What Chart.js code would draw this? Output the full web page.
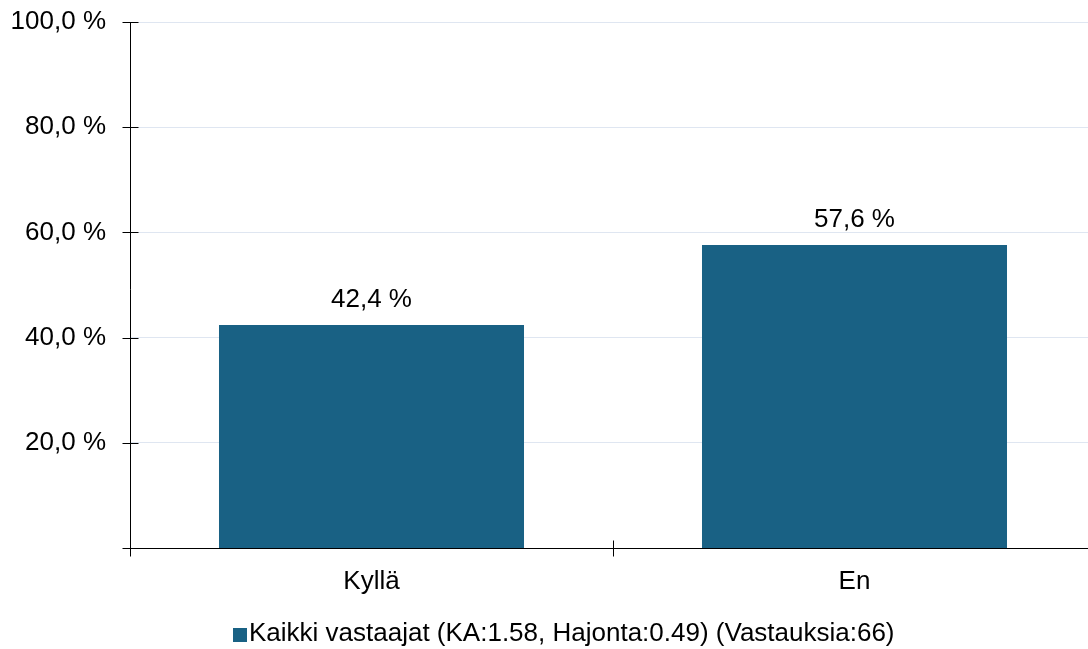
<!DOCTYPE html>
<html><head><meta charset="utf-8">
<script src="https://cdn.jsdelivr.net/npm/chart.js@4/dist/chart.umd.min.js"></script>
<style>html,body{margin:0;padding:0;background:#fff;overflow:hidden}#wrap{width:1096px;height:649px}</style>
</head><body><div id="wrap"><canvas id="c"></canvas></div>
<script>
const categories = ["Kyllä", "En"];
const values = [42.4, 57.6];
const seriesLabel = "Kaikki vastaajat (KA:1.58, Hajonta:0.49) (Vastauksia:66)";
const yTicks = [20, 40, 60, 80, 100];
const barColor = "#196184";
const FONT = '"Liberation Sans", Arial, sans-serif';
const FS = 26;
const fmt = v => v.toFixed(1).replace('.', ',') + ' %';

const axisPlugin = {
  id: 'axisPlugin',
  afterDraw(chart) {
    const ctx = chart.ctx, x = chart.scales.x, y = chart.scales.y, a = chart.chartArea;
    ctx.save();
    ctx.strokeStyle = '#000'; ctx.lineWidth = 1;
    const ax = Math.round(a.left) + 0.5, ay = Math.round(y.getPixelForValue(0)) + 0.5;
    ctx.beginPath();
    ctx.moveTo(ax, a.top); ctx.lineTo(ax, ay + 8);
    ctx.moveTo(ax, ay); ctx.lineTo(a.right, ay);
    yTicks.forEach(v => { const py = Math.round(y.getPixelForValue(v)) + 0.5; ctx.moveTo(ax - 8, py); ctx.lineTo(ax + 8, py); });
    ctx.moveTo(ax - 8, ay); ctx.lineTo(ax + 8, ay);
    for (let i = 1; i < categories.length; i++) {
      const px = Math.round((x.getPixelForValue(i - 1) + x.getPixelForValue(i)) / 2) + 0.5;
      ctx.moveTo(px, ay - 8); ctx.lineTo(px, ay + 8);
    }
    ctx.stroke();
    // data labels
    ctx.fillStyle = '#000';
    ctx.font = FS + 'px ' + FONT;
    ctx.textAlign = 'center'; ctx.textBaseline = 'alphabetic';
    const meta = chart.getDatasetMeta(0);
    meta.data.forEach((bar, i) => { ctx.fillText(fmt(values[i]), bar.x, bar.y - 18); });
    // legend
    const ds = chart.data.datasets[0];
    const tw = ctx.measureText(ds.label).width;
    const total = 14 + 2 + tw;
    const lx = Math.round(563.5 - total / 2);
    const ly = 634;
    ctx.fillStyle = ds.backgroundColor;
    ctx.fillRect(lx, ly - 6, 14, 14);
    ctx.fillStyle = '#000';
    ctx.textAlign = 'left'; ctx.textBaseline = 'middle';
    ctx.fillText(ds.label, lx + 16, ly);
    ctx.restore();
  }
};

new Chart(document.getElementById('c'), {
  type: 'bar',
  data: { labels: categories, datasets: [{ label: seriesLabel, data: values, backgroundColor: barColor, borderWidth: 0, barPercentage: 0.6315, categoryPercentage: 1 }] },
  options: {
    responsive: true, maintainAspectRatio: false, animation: false,
    layout: { padding: { top: 22, right: 0, left: 0, bottom: 41 } },
    plugins: {
      tooltip: { enabled: false },
      legend: { display: false }
    },
    scales: {
      x: {
        grid: { display: false }, border: { display: false },
        ticks: { color: '#000', padding: 10, font: { size: FS, family: FONT } },
        afterFit(s) { s.height = 60; s.paddingLeft = 0; s.paddingRight = 0; }
      },
      y: {
        min: 0, max: 100,
        afterBuildTicks(s) { s.ticks = yTicks.map(v => ({ value: v })); },
        grid: { drawTicks: false, color: '#dfe6f1', lineWidth: 1 },
        border: { display: false },
        ticks: { color: '#000', padding: 24, callback: v => fmt(v), font: { size: FS, family: FONT } },
        afterFit(s) { s.width = 130; s.paddingTop = 0; s.paddingBottom = 0; }
      }
    }
  },
  plugins: [axisPlugin]
});
</script></body></html>
